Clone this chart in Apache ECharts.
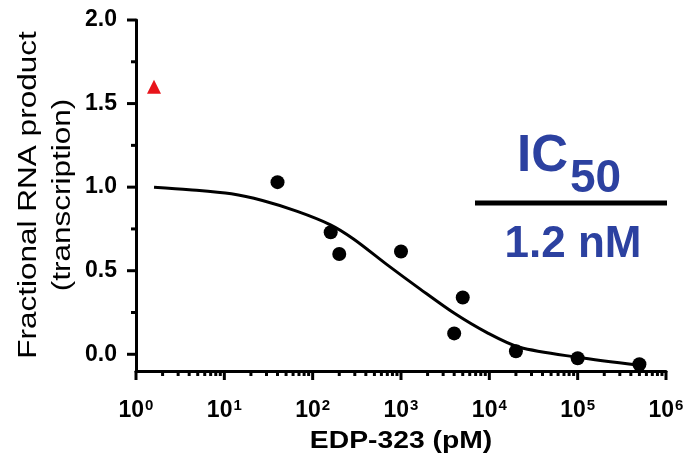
<!DOCTYPE html>
<html>
<head>
<meta charset="utf-8">
<script src="https://cdn.jsdelivr.net/npm/echarts@6/dist/echarts.min.js"></script>
<style>
  html, body { margin: 0; padding: 0; background: #fff; }
  #chart { width: 689px; height: 461px; }
</style>
</head>
<body>
<div id="chart"></div>
<script>
  // 数据点 (pM, fractional RNA product)
  const dotX = [40, 160, 200, 1000, 5000, 4000, 20000, 100000, 500000]
  const dotY = [1.03, 0.73, 0.6, 0.615, 0.34, 0.125, 0.018, -0.024, -0.06]
  // 红色三角 (no drug control)
  const ctrlX = [1.6]
  const ctrlY = [1.6]
  // 拟合曲线
  const curveX = [1.6, 4, 12, 27, 67, 157, 290, 700, 1650, 3900, 9400, 22000, 100000, 500000]
  const curveY = [1.0, 0.985, 0.96, 0.92, 0.855, 0.776, 0.69, 0.535, 0.39, 0.25, 0.13, 0.042, -0.018, -0.066]
  // 刻度
  const xMajorTicks = [1, 10, 100, 1000, 10000, 100000, 1000000]
  const yMajorTicks = [0, 0.5, 1.0, 1.5, 2.0]
  const yMinorTicks = [0.25, 0.75, 1.25, 1.75]
  const xMinorTicks = []
  for (let d = 1; d < 1000000; d *= 10) {
    for (let m = 2; m <= 9; m++) xMinorTicks.push(m * d)
  }

  const font = 'Liberation Sans, Arial, sans-serif'
  const blue = '#2C41A0'
  const xMin = 1
  const yMin = -0.1

  // 刻度线用 custom series 画 (经过坐标轴换算)
  function xTick(len) {
    return (params, api) => {
      const p = api.coord([api.value(0), api.value(1)])
      return { type: 'line', shape: { x1: p[0], y1: p[1], x2: p[0], y2: p[1] + len }, style: { stroke: '#000', lineWidth: 3 } }
    }
  }
  function yTick(len) {
    return (params, api) => {
      const p = api.coord([api.value(0), api.value(1)])
      return { type: 'line', shape: { x1: p[0] - len, y1: p[1], x2: p[0], y2: p[1] }, style: { stroke: '#000', lineWidth: 3 } }
    }
  }
  function tickSeries(data, render) {
    return { type: 'custom', data: data, renderItem: render, clip: false, silent: true, z: 1 }
  }

  const chart = echarts.init(document.getElementById('chart'))
  const option = {
    animation: false,
    grid: { left: 136, right: 23, top: 20, bottom: 90 },
    xAxis: {
      type: 'log',
      logBase: 10,
      min: 1,
      max: 1000000,
      axisLine: { show: true, onZero: false, lineStyle: { color: '#000', width: 3 } },
      axisTick: { show: false },
      splitLine: { show: false },
      axisLabel: {
        customValues: xMajorTicks.slice(),
        margin: 27,
        formatter: v => '{b|10}{s|' + Math.round(Math.log10(v)) + '}',
        rich: {
          b: { fontFamily: font, fontWeight: 'bold', fontSize: 23, color: '#000' },
          s: { fontFamily: font, fontWeight: 'bold', fontSize: 15, color: '#000', padding: [0, 0, 11, 1] }
        }
      }
    },
    yAxis: {
      type: 'value',
      min: -0.1,
      max: 2.0,
      axisLine: { show: true, onZero: false, lineStyle: { color: '#000', width: 3 } },
      axisTick: { show: false },
      splitLine: { show: false },
      axisLabel: {
        customValues: yMajorTicks.slice(),
        margin: 19,
        formatter: v => v.toFixed(1),
        fontFamily: font,
        fontWeight: 'bold',
        fontSize: 23,
        color: '#000'
      }
    },
    series: [
      tickSeries(xMajorTicks.map(v => [v, yMin]), xTick(9)),
      tickSeries(xMinorTicks.map(v => [v, yMin]), xTick(5)),
      tickSeries(yMajorTicks.map(v => [xMin, v]), yTick(9)),
      tickSeries(yMinorTicks.map(v => [xMin, v]), yTick(5)),
      {
        type: 'line',
        data: curveX.map((x, i) => [x, curveY[i]]),
        smooth: 0.3,
        showSymbol: false,
        lineStyle: { color: '#000', width: 3 },
        z: 2
      },
      {
        type: 'scatter',
        data: dotX.map((x, i) => [x, dotY[i]]),
        symbol: 'circle',
        symbolSize: 14,
        itemStyle: { color: '#000', opacity: 1 },
        z: 3
      },
      {
        type: 'scatter',
        data: ctrlX.map((x, i) => [x, ctrlY[i]]),
        symbol: 'triangle',
        symbolSize: 14,
        itemStyle: { color: '#E8141B', opacity: 1 },
        z: 3
      }
    ],
    graphic: [
      // y轴标题
      {
        type: 'text',
        x: 46, y: 195,
        rotation: Math.PI / 2,
        scaleX: 1.26,
        style: {
          text: 'Fractional RNA product\n(transcription)',
          font: '25px ' + font,
          fill: '#000',
          align: 'center',
          verticalAlign: 'middle',
          lineHeight: 34
        }
      },
      // x轴标题
      {
        type: 'text',
        x: 401, y: 442,
        scaleX: 1.23,
        style: {
          text: 'EDP-323 (pM)',
          font: 'bold 23px ' + font,
          fill: '#000',
          align: 'center',
          verticalAlign: 'middle'
        }
      },
      // IC50 注释
      {
        type: 'text',
        x: 517, y: 157,
        style: { text: 'IC', font: 'bold 51px ' + font, fill: blue, align: 'left', verticalAlign: 'middle' }
      },
      {
        type: 'text',
        x: 570, y: 179,
        style: { text: '50', font: 'bold 46px ' + font, fill: blue, align: 'left', verticalAlign: 'middle' }
      },
      {
        type: 'line',
        shape: { x1: 475, y1: 203, x2: 667, y2: 203 },
        style: { stroke: '#000', lineWidth: 5 }
      },
      {
        type: 'text',
        x: 573, y: 245,
        style: { text: '1.2 nM', font: 'bold 44px ' + font, fill: blue, align: 'center', verticalAlign: 'middle' }
      }
    ]
  }
  chart.setOption(option)
</script>
</body>
</html>
